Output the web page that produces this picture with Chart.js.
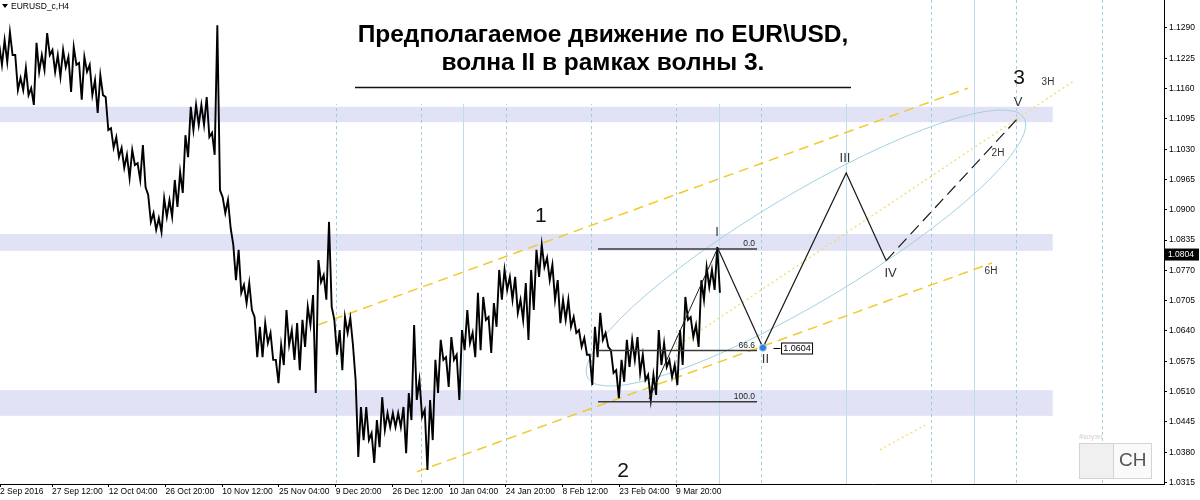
<!DOCTYPE html>
<html><head><meta charset="utf-8">
<script src="https://cdn.jsdelivr.net/npm/chart.js@4/dist/chart.umd.min.js"></script>
<style>html,body{margin:0;padding:0;background:#fff;}canvas{display:block;}</style>
</head><body>
<canvas id="c" width="1200" height="500"></canvas>
<script>
// ================= DATA =================
// H4 price columns (high / low), one every 6 bars starting at bar 6
const priceHigh = [
1.1253,1.1264,1.1281,1.1232,1.1183,1.1204,1.1161,1.1258,1.1232,1.1279,
1.1243,1.1232,1.1243,1.1228,1.1249,1.1215,1.1228,1.1211,1.1178,1.1189,
1.1142,1.1075,1.1056,1.1033,1.1018,1.1028,1.1000,1.1039,1.0932,1.0893,
1.0882,1.0925,1.0921,1.0964,1.0981,1.1060,1.1121,1.1125,1.1125,1.1142,
1.1065,1.1296,1.0927,1.0921,1.0825,1.0814,1.0739,1.0743,1.0670,1.0649,
1.0657,1.0636,1.0578,1.0610,1.0685,1.0642,1.0657,1.0664,1.0692,1.0717,
1.0792,1.0760,1.0874,1.0664,1.0642,1.0670,1.0668,1.0535,1.0477,1.0477,
1.0421,1.0449,1.0498,1.0464,1.0464,1.0464,1.0477,1.0507,1.0653,1.0535,
1.0471,1.0492,1.0578,1.0621,1.0584,1.0627,1.0589,1.0642,1.0685,1.0636,
1.0722,1.0713,1.0670,1.0700,1.0771,1.0771,1.0756,1.0756,1.0707,1.0743,
1.0771,1.0814,1.0825,1.0797,1.0782,1.0749,1.0707,1.0707,1.0670,1.0642,
1.0625,1.0589,1.0649,1.0679,1.0636,1.0599,1.0556,1.0578,1.0621,1.0621,
1.0627,1.0589,1.0546,1.0546,1.0642,1.0614,1.0578,1.0567,1.0642,1.0713,
1.0670,1.0653,1.0749,1.0777,1.0771,1.0820];
const priceLow = [
1.1211,1.1217,1.1232,1.1157,1.1157,1.1146,1.1125,1.1196,1.1200,1.1232,
1.1196,1.1185,1.1206,1.1153,1.1211,1.1136,1.1196,1.1146,1.1108,1.1146,
1.1071,1.1033,1.1013,1.0990,1.0968,1.0996,1.0964,1.0949,1.0874,1.0857,
1.0852,1.0885,1.0885,1.0906,1.0936,1.1013,1.1071,1.1082,1.1082,1.1056,
1.1018,1.0942,1.0893,1.0861,1.0749,1.0722,1.0700,1.0685,1.0584,1.0584,
1.0614,1.0578,1.0528,1.0567,1.0610,1.0578,1.0556,1.0606,1.0653,1.0507,
1.0745,1.0707,1.0692,1.0589,1.0556,1.0636,1.0610,1.0370,1.0406,1.0406,
1.0357,1.0391,1.0428,1.0434,1.0434,1.0434,1.0378,1.0449,1.0492,1.0456,
1.0342,1.0406,1.0507,1.0578,1.0520,1.0578,1.0492,1.0599,1.0614,1.0584,
1.0599,1.0664,1.0593,1.0649,1.0707,1.0728,1.0707,1.0679,1.0664,1.0621,
1.0685,1.0756,1.0777,1.0749,1.0707,1.0657,1.0664,1.0649,1.0636,1.0606,
1.0589,1.0524,1.0584,1.0621,1.0606,1.0550,1.0496,1.0531,1.0563,1.0578,
1.0550,1.0535,1.0492,1.0503,1.0567,1.0563,1.0541,1.0524,1.0567,1.0664,
1.0627,1.0606,1.0707,1.0734,1.0728,1.0722];
const firstBar = 6, barStep = 6;

// time axis
const timeTickBars = [5.3,64,128,192,256,320,384,448,512,576,640,704,768];
const timeTickLabels = ["2 Sep 2016","27 Sep 12:00","12 Oct 04:00","26 Oct 20:00","10 Nov 12:00","25 Nov 04:00","9 Dec 20:00","26 Dec 12:00","10 Jan 04:00","24 Jan 20:00","8 Feb 12:00","23 Feb 04:00","9 Mar 20:00"];
const barMin = 5.3, barMax = 1318.5;

// price axis
const priceTicks = [1.0315,1.0380,1.0445,1.0510,1.0575,1.0640,1.0705,1.0770,1.0835,1.0900,1.0965,1.1030,1.1095,1.1160,1.1225,1.1290];
const priceMin = 1.03118, priceMax = 1.1350;
const currentPrice = 1.0804;

// support / resistance zones
const zoneLow  = [1.1088, 1.0812, 1.0458];
const zoneHigh = [1.1121, 1.0848, 1.0513];
const zoneEndBar = 1193;

// vertical time lines
const dashedTimeLineBars = [384,480,576,672,768,864,1056,1152,1248];
const solidTimeLineBars  = [528,816,960,1104];

// Elliott waves
const waveBars   = [815, 866, 960, 1005];
const wavePrices = [1.0818, 1.0604, 1.0979, 1.0791];
const waveVBars   = [1005, 1153];
const waveVPrices = [1.0791, 1.1095];
const trendBars   = [737.5, 815];
const trendPrices = [1.0494, 1.0818];
const pointIIBar = 866, pointIIPrice = 1.0604;

// Fibonacci retracement
const fibLabels = ["0.0","66.6","100.0"];
const fibPrices = [1.0816, 1.0598, 1.0488];
const fibBars   = [680, 859.4];

// channels
const upperChannelBars = [364, 1097.4],  upperChannelPrices = [1.0653, 1.1161];
const lowerChannelBars = [475.7, 1124.4], lowerChannelPrices = [1.0338, 1.0786];
const dottedLineBars   = [768, 1218],    dottedLinePrices   = [1.0606, 1.1178];
const dotted2Bars      = [998, 1049],    dotted2Prices      = [1.0385, 1.0438];

// ellipse (major-axis end points)
const ellipseBars = [668.6, 1160.5], ellipsePrices = [1.0539, 1.1097];

// text labels
const bigLabelTexts = ["1","2","3"], bigLabelBars = [615.6,708.2,1154.9], bigLabelPrices = [1.0887,1.0340,1.1183];
const waveLabelTexts = ["I","II","III","IV","V"], waveLabelBars = [814.2,868.9,958.6,1010,1153.8], waveLabelPrices = [1.0852,1.0580,1.1011,1.0764,1.1131];
const hLabelTexts = ["2H","3H","6H"], hLabelBars = [1131.2,1187.6,1123.3], hLabelPrices = [1.1022,1.1174,1.0769];
const tagBar = 878, tagPrice = 1.0604, tagText = "1.0604";

const titleLines = ["Предполагаемое движение по EUR\\USD,", "волна II в рамках волны 3."];
const symbolText = "EURUSD_c,H4";

// ================= CHART =================
const FONT = "'Liberation Sans', Arial, sans-serif";
const pts = (bs, ps) => bs.map((b, i) => ({x: b, y: ps[i]}));
const pricePath = [];
priceHigh.forEach((h, i) => {
  const b = firstBar + barStep * i;
  pricePath.push({x: b - 1.5, y: h}, {x: b + 1.5, y: priceLow[i]});
});
const lineDs = (data, color, width, dash) => ({type:'line', data, borderColor: color, borderWidth: width, borderDash: dash || [], pointRadius: 0, fill: false, tension: 0});

const overlay = {
  id: 'overlay',
  beforeDatasetsDraw(chart) {
    const {ctx, chartArea: a, scales: {x, y}} = chart;
    ctx.save();
    ctx.beginPath(); ctx.rect(a.left, a.top, a.right - a.left, a.bottom - a.top); ctx.clip();
    ctx.fillStyle = '#e2e2f7';
    const xe = x.getPixelForValue(zoneEndBar);
    zoneLow.forEach((lo, i) => {
      const y1 = y.getPixelForValue(zoneHigh[i]), y2 = y.getPixelForValue(lo);
      ctx.fillRect(a.left, y1, xe - a.left, y2 - y1);
    });
    ctx.lineWidth = 1;
    ctx.strokeStyle = '#a3cddd'; ctx.setLineDash([3, 3]);
    dashedTimeLineBars.forEach(b => { const px = Math.round(x.getPixelForValue(b)) + 0.5; ctx.beginPath(); ctx.moveTo(px, a.top); ctx.lineTo(px, a.bottom); ctx.stroke(); });
    ctx.setLineDash([]); ctx.strokeStyle = '#bcdde9';
    solidTimeLineBars.forEach(b => { const px = Math.round(x.getPixelForValue(b)) + 0.5; ctx.beginPath(); ctx.moveTo(px, a.top); ctx.lineTo(px, a.bottom); ctx.stroke(); });
    // ellipse
    const ax = x.getPixelForValue(ellipseBars[0]), ay = y.getPixelForValue(ellipsePrices[0]);
    const bx = x.getPixelForValue(ellipseBars[1]), by = y.getPixelForValue(ellipsePrices[1]);
    ctx.strokeStyle = '#a4d0e0'; ctx.lineWidth = 1;
    ctx.beginPath();
    ctx.ellipse((ax + bx) / 2, (ay + by) / 2, Math.hypot(bx - ax, by - ay) / 2, 54, Math.atan2(by - ay, bx - ax), 0, Math.PI * 2);
    ctx.stroke();
    ctx.restore();
  },
  afterDatasetsDraw(chart) {
    const {ctx, chartArea: a, scales: {x, y}} = chart;
    ctx.save();
    // title panel
    ctx.fillStyle = '#fff'; ctx.fillRect(330, 0, 525, 104);
    ctx.fillStyle = '#000'; ctx.textAlign = 'center'; ctx.textBaseline = 'middle';
    ctx.font = "bold 24.5px " + FONT;
    ctx.fillText(titleLines[0], 603, 35);
    ctx.fillText(titleLines[1], 603, 63);
    ctx.strokeStyle = '#111'; ctx.lineWidth = 1.5;
    ctx.beginPath(); ctx.moveTo(355, 87.5); ctx.lineTo(851, 87.5); ctx.stroke();
    // fib labels
    ctx.font = "8.5px " + FONT; ctx.fillStyle = '#222'; ctx.textAlign = 'right'; ctx.textBaseline = 'bottom';
    const fx = x.getPixelForValue(fibBars[1]) - 2;
    fibLabels.forEach((t, i) => ctx.fillText(t, fx, y.getPixelForValue(fibPrices[i]) - 1));
    // labels
    ctx.textAlign = 'center'; ctx.textBaseline = 'middle';
    ctx.fillStyle = '#111'; ctx.font = "21px " + FONT;
    bigLabelTexts.forEach((t, i) => ctx.fillText(t, x.getPixelForValue(bigLabelBars[i]), y.getPixelForValue(bigLabelPrices[i])));
    ctx.fillStyle = '#333'; ctx.font = "13px " + FONT;
    waveLabelTexts.forEach((t, i) => ctx.fillText(t, x.getPixelForValue(waveLabelBars[i]), y.getPixelForValue(waveLabelPrices[i])));
    ctx.fillStyle = '#333'; ctx.font = "10px " + FONT;
    hLabelTexts.forEach((t, i) => ctx.fillText(t, x.getPixelForValue(hLabelBars[i]), y.getPixelForValue(hLabelPrices[i])));
    // price tag 1.0604
    const tx = x.getPixelForValue(tagBar), ty = Math.round(y.getPixelForValue(tagPrice)) + 0.5;
    ctx.strokeStyle = '#000'; ctx.lineWidth = 1;
    ctx.beginPath(); ctx.moveTo(tx, ty); ctx.lineTo(tx + 7, ty); ctx.stroke();
    ctx.fillStyle = '#fff'; ctx.fillRect(tx + 8, ty - 5.5, 31, 11);
    ctx.strokeRect(tx + 8, ty - 5.5, 31, 11);
    ctx.fillStyle = '#000'; ctx.font = "9px " + FONT; ctx.textAlign = 'center';
    ctx.fillText(tagText, tx + 23.5, ty + 0.5);
    ctx.restore();
  },
  afterDraw(chart) {
    const {ctx, chartArea: a, scales: {y}} = chart;
    ctx.save();
    // current price tag on axis
    const cy = y.getPixelForValue(currentPrice);
    ctx.fillStyle = '#000'; ctx.fillRect(a.right + 1, cy - 6, 34, 12);
    ctx.fillStyle = '#fff'; ctx.font = "8.5px " + FONT; ctx.textAlign = 'left'; ctx.textBaseline = 'middle';
    ctx.fillText(currentPrice.toFixed(4), a.right + 4, cy);
    // symbol caption
    ctx.fillStyle = '#000';
    ctx.beginPath(); ctx.moveTo(2, 4); ctx.lineTo(8, 4); ctx.lineTo(5, 8); ctx.closePath(); ctx.fill();
    ctx.font = "8.5px " + FONT; ctx.textBaseline = 'middle';
    ctx.fillText(symbolText, 11, 6.5);
    // watermark box
    ctx.fillStyle = '#fafafa'; ctx.fillRect(1079, 443, 73, 36);
    ctx.fillStyle = '#f0f0f0'; ctx.fillRect(1079, 443, 34, 36);
    ctx.strokeStyle = '#d4d4d4'; ctx.lineWidth = 1;
    ctx.strokeRect(1079.5, 443.5, 72, 35);
    ctx.beginPath(); ctx.moveTo(1113.5, 443.5); ctx.lineTo(1113.5, 478.5); ctx.stroke();
    ctx.fillStyle = '#555'; ctx.font = "19px " + FONT; ctx.textAlign = 'left';
    ctx.fillText('CH', 1119, 461);
    ctx.fillStyle = '#d0d0d0'; ctx.font = "7.5px " + FONT;
    ctx.fillText('#коуэн', 1079, 437);
    ctx.restore();
  }
};

new Chart(document.getElementById('c'), {
  type: 'line',
  data: {
    datasets: [
      {type:'line', data:[{x: pointIIBar, y: pointIIPrice}], showLine:false, pointRadius:3.5, pointBackgroundColor:'#2a7de1', pointBorderColor:'#9cc6f2', pointBorderWidth:1},
      lineDs(pts(waveBars, wavePrices), '#1a1a1a', 1.2),
      lineDs(pts(waveVBars, waveVPrices), '#1a1a1a', 1.2, [12, 6]),
      lineDs(pts(trendBars, trendPrices), '#1a1a1a', 1),
      ...fibPrices.map(p => lineDs(pts(fibBars, [p, p]), '#3a3a3a', 1.5)),
      lineDs(pricePath, '#000', 1.9),
      lineDs(pts(upperChannelBars, upperChannelPrices), '#f0cb2c', 1.5, [10, 6]),
      lineDs(pts(lowerChannelBars, lowerChannelPrices), '#f0cb2c', 1.5, [10, 6]),
      lineDs(pts(dottedLineBars, dottedLinePrices), '#f2dc6a', 1.3, [2, 3]),
      lineDs(pts(dotted2Bars, dotted2Prices), '#f2dc6a', 1.3, [2, 3])
    ]
  },
  options: {
    responsive: false, animation: false, events: [],
    layout: {padding: 0, autoPadding: false},
    plugins: {legend: {display: false}, tooltip: {enabled: false}},
    scales: {
      x: {
        type: 'linear', position: 'bottom', min: barMin, max: barMax,
        afterBuildTicks: s => { s.ticks = timeTickBars.map(v => ({value: v})); },
        afterFit: s => { s.height = 16; s.paddingLeft = 0; s.paddingRight = 0; },
        ticks: {autoSkip: false, maxRotation: 0, minRotation: 0, align: 'start', padding: 0, color: '#000',
                font: {family: FONT, size: 8.5}, callback: (v, i) => timeTickLabels[i]},
        grid: {drawOnChartArea: false, tickLength: 3, color: '#000'},
        border: {color: '#000', width: 1}
      },
      y: {
        type: 'linear', position: 'right', min: priceMin, max: priceMax,
        afterBuildTicks: s => { s.ticks = priceTicks.map(v => ({value: v})); },
        afterFit: s => { s.width = 36; s.paddingTop = 0; s.paddingBottom = 0; },
        ticks: {padding: 2, color: '#000', font: {family: FONT, size: 8.5}, callback: v => v.toFixed(4)},
        grid: {drawOnChartArea: false, tickLength: 3, color: '#000'},
        border: {color: '#000', width: 1}
      }
    }
  },
  plugins: [overlay]
});
</script>
</body></html>
